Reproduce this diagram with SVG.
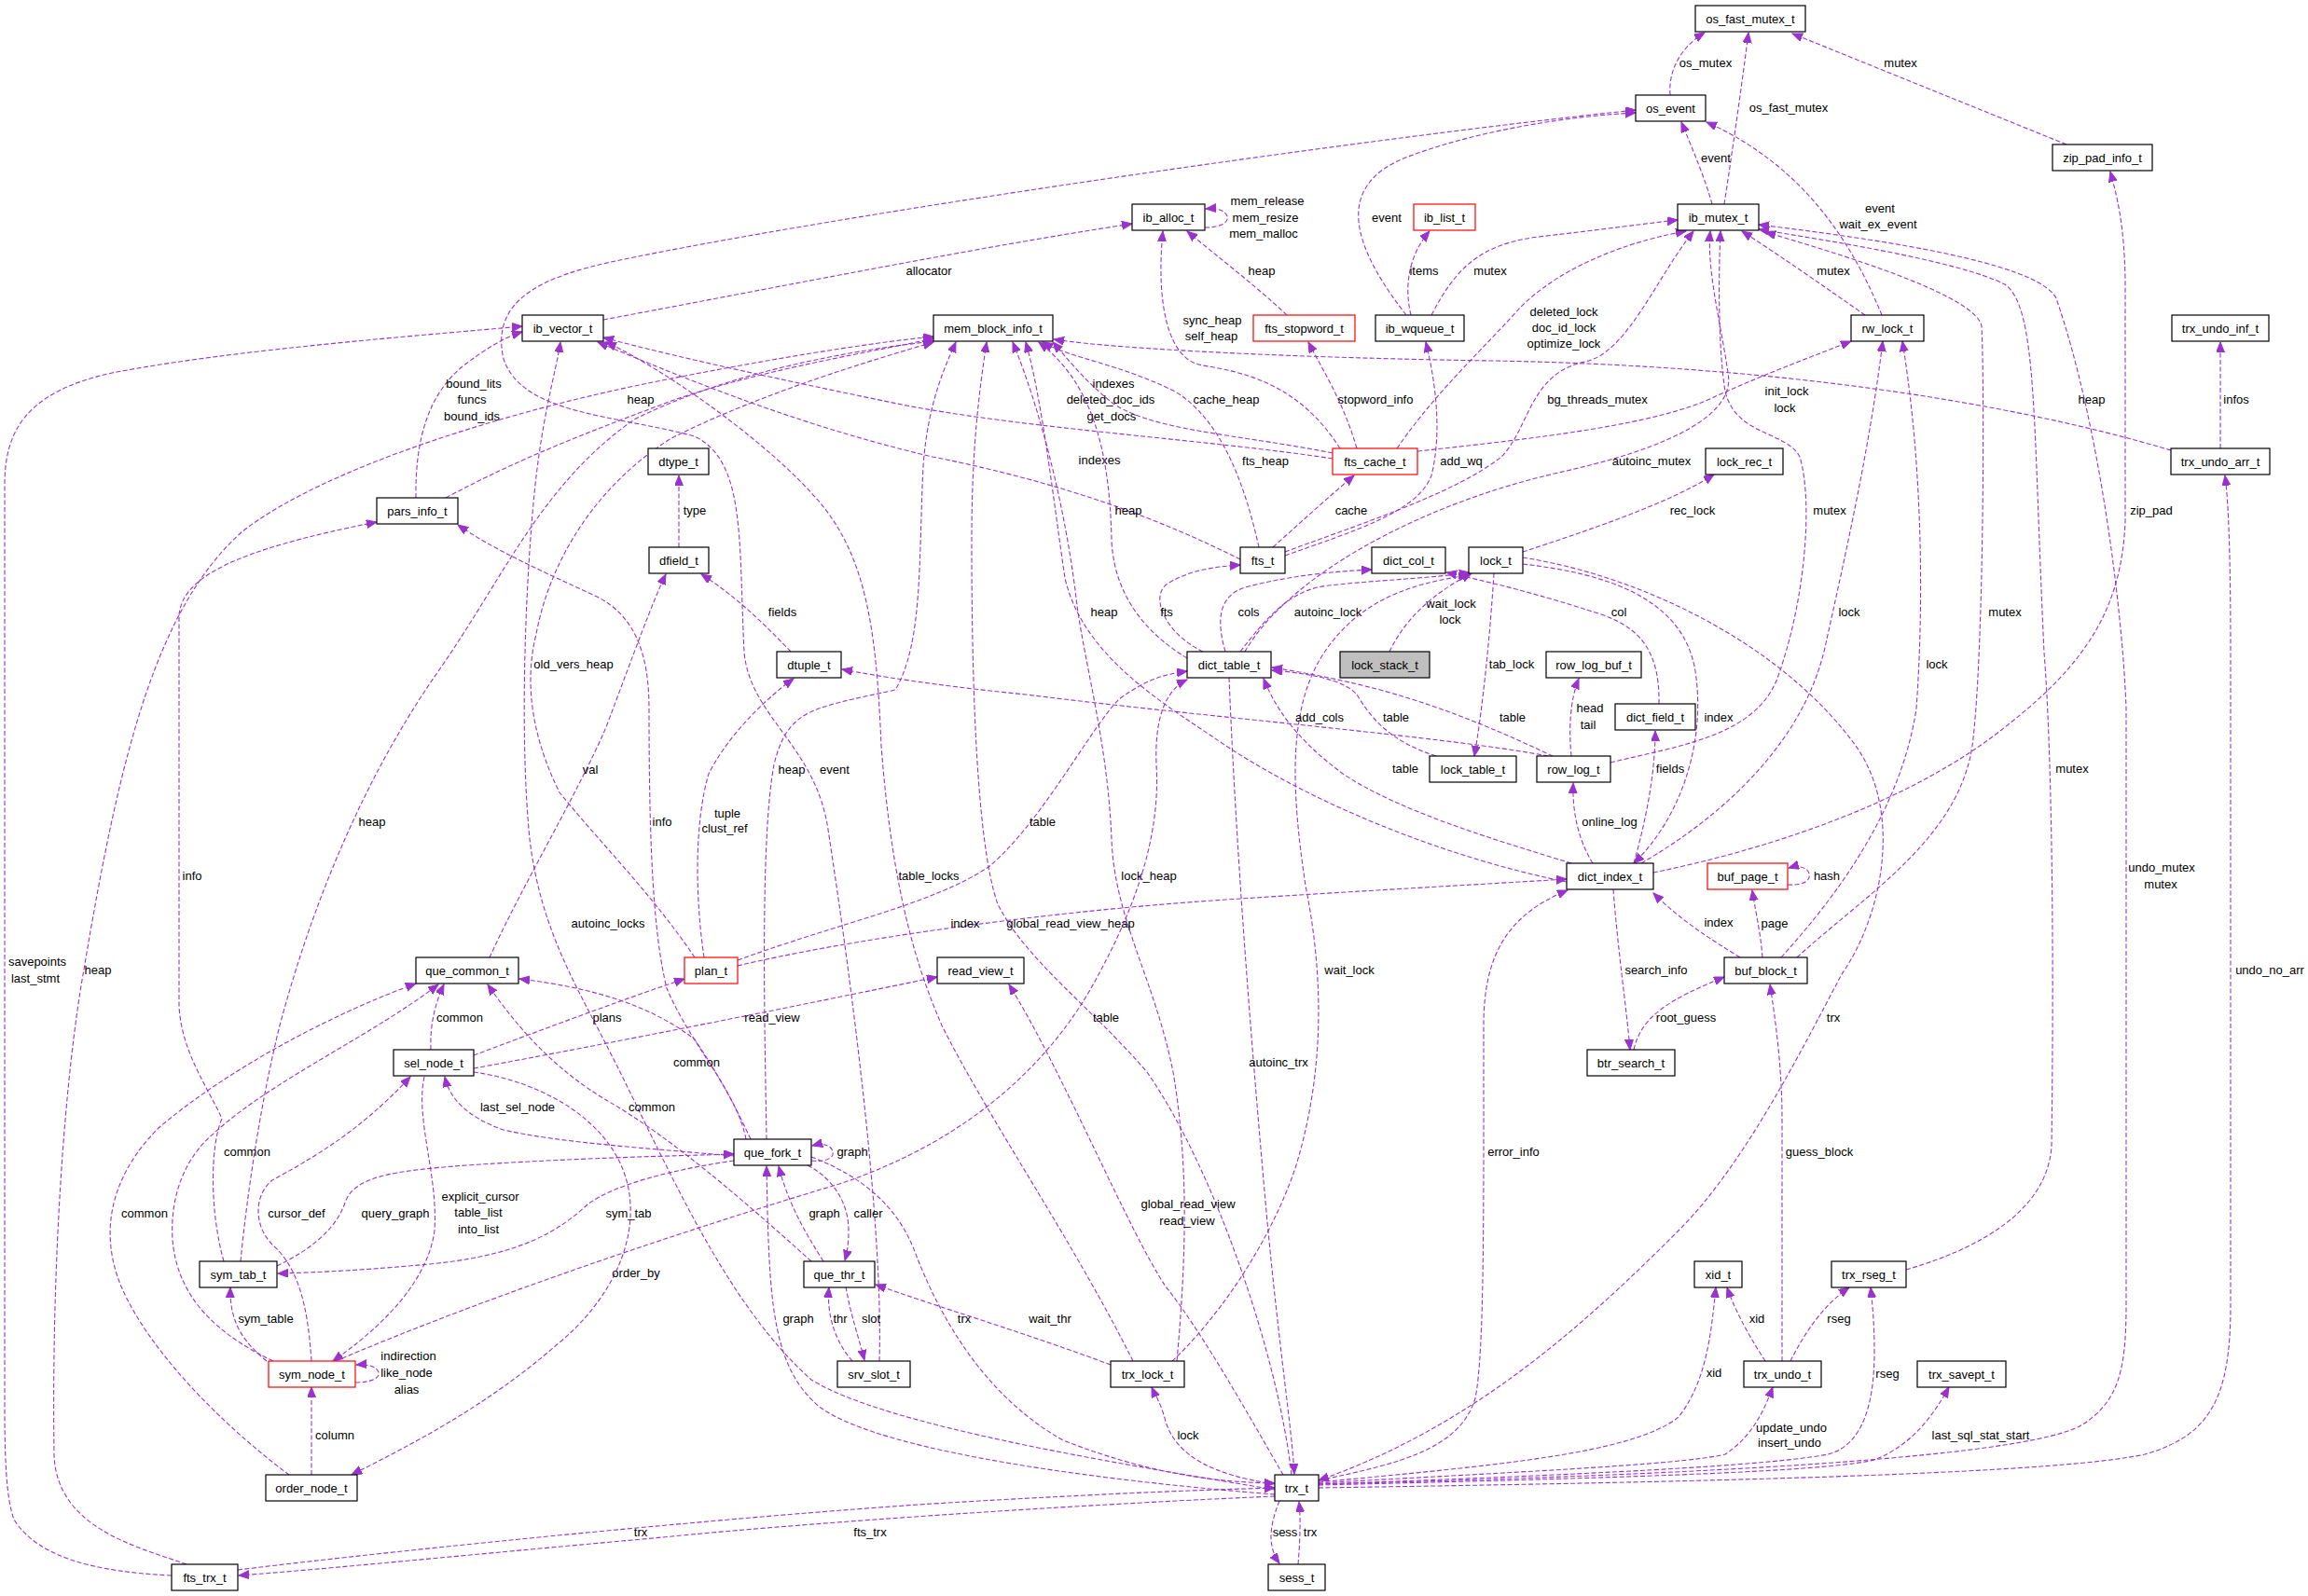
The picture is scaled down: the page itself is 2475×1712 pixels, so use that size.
<svg xmlns="http://www.w3.org/2000/svg" width="2475" height="1712" viewBox="0 0 2475 1712">
<defs>
<marker id="ah" markerWidth="12" markerHeight="10" refX="11" refY="4.5" orient="auto" markerUnits="userSpaceOnUse"><path d="M0,0 L11,4.5 L0,9 Z" fill="#9a32cd" stroke="#9a32cd" stroke-width="1"/></marker>
<style>
.n rect{fill:#fff;stroke:#000;stroke-width:1.2}
.n.r rect{stroke:#ff0000}
.n.g rect{fill:#bfbfbf}
text{font-family:"Liberation Sans",Arial,Helvetica,sans-serif;font-size:13px;fill:#000;text-anchor:middle}
.e path{fill:none;stroke:#9a32cd;stroke-width:1.1;stroke-dasharray:5,2.5;marker-end:url(#ah)}
</style>
</defs>
<rect width="2475" height="1712" fill="#fff"/>
<g id="edges">
<g class="e"><path d="M1791,102 C1789,78 1800,52 1828,35"/><text x="1829" y="72">os_mutex</text></g>
<g class="e"><path d="M1849,219 C1858,160 1868,90 1875,35"/><text x="1918" y="120">os_fast_mutex</text></g>
<g class="e"><path d="M2216,155 L1922,36"/><text x="2038" y="72">mutex</text></g>
<g class="e"><path d="M1836,219 C1828,190 1815,160 1803,131"/><text x="1840" y="174">event</text></g>
<g class="e"><path d="M2018,338 C1990,270 1940,180 1830,131"/><text x="2016" y="228">event</text><text x="2014" y="245">wait_ex_event</text></g>
<g class="e"><path d="M1508,338 C1455,270 1425,200 1510,168 C1590,138 1690,124 1754,121"/><text x="1487" y="238">event</text></g>
<g class="e"><path d="M943,1460 C948,1300 905,1000 888,890 C875,800 805,770 798,700 C792,580 800,495 745,468 C660,445 560,445 540,385 C525,320 585,296 660,280 C900,230 1450,150 1754,118"/><text x="895" y="830">event</text></g>
<g class="e"><path d="M647,343 C850,305 1050,265 1214,240"/><text x="996" y="295">allocator</text></g>
<g class="e"><path d="M1292,244 C1310,244 1318,238 1316,232 C1314,226 1306,223 1293,224"/><text x="1359" y="220">mem_release</text><text x="1357" y="238">mem_resize</text><text x="1355" y="255">mem_malloc</text></g>
<g class="e"><path d="M1380,338 C1345,305 1305,275 1273,248"/><text x="1353" y="295">heap</text></g>
<g class="e"><path d="M1437,481 C1395,415 1340,400 1290,392 C1250,386 1240,320 1247,248"/><text x="1300" y="348">sync_heap</text><text x="1299" y="365">self_heap</text></g>
<g class="e"><path d="M1513,338 C1505,305 1512,272 1533,248"/><text x="1527" y="295">items</text></g>
<g class="e"><path d="M1535,338 C1560,290 1585,262 1650,254 C1720,246 1770,239 1799,236"/><text x="1598" y="295">mutex</text></g>
<g class="e"><path d="M1498,481 C1540,420 1590,375 1630,330 C1680,280 1760,256 1808,248"/><text x="1677" y="339">deleted_lock</text><text x="1677" y="356">doc_id_lock</text><text x="1677" y="373">optimize_lock</text></g>
<g class="e"><path d="M1378,592 C1450,565 1560,530 1610,490 C1640,460 1640,400 1700,388 C1745,378 1775,300 1816,248"/><text x="1713" y="433">bg_threads_mutex</text></g>
<g class="e"><path d="M1335,699 C1380,620 1520,540 1680,505 C1790,480 1862,445 1853,400 C1846,350 1830,290 1834,248"/><text x="1771" y="499">autoinc_mutex</text></g>
<g class="e"><path d="M2000,338 C1960,310 1910,275 1868,248"/><text x="1966" y="295">mutex</text></g>
<g class="e"><path d="M1727,818 C1800,800 1880,790 1905,730 C1935,650 1945,540 1930,490 C1915,462 1862,468 1850,420 C1842,370 1843,290 1845,248"/><text x="1962" y="552">mutex</text></g>
<g class="e"><path d="M1927,1027 C2000,960 2100,900 2115,800 C2128,700 2128,400 2125,350 C2120,320 2000,280 1893,249"/><text x="2150" y="661">mutex</text></g>
<g class="e"><path d="M2044,1362 C2120,1340 2195,1300 2200,1230 C2203,1000 2200,800 2192,700 C2180,450 2185,330 2150,305 C2100,280 1960,258 1886,246"/><text x="2222" y="829">mutex</text></g>
<g class="e"><path d="M1414,1592 C1700,1585 2150,1570 2230,1530 C2272,1505 2280,1470 2280,1400 L2280,760 C2276,650 2250,450 2205,320 C2185,280 2000,255 1886,241"/><text x="2318" y="935">undo_mutex</text><text x="2317" y="953">mutex</text></g>
<g class="e"><path d="M1520,484 C1650,470 1780,455 1840,425 C1900,398 1950,380 1985,366"/><text x="1916" y="424">init_lock</text><text x="1914" y="442">lock</text></g>
<g class="e"><path d="M1760,926 C1840,880 1935,800 1958,690 C1980,590 2005,480 2019,366"/><text x="1983" y="661">lock</text></g>
<g class="e"><path d="M1910,1027 C1980,950 2040,860 2055,760 C2063,650 2062,500 2040,366"/><text x="2077" y="717">lock</text></g>
<g class="e"><path d="M2328,483 C2150,430 1900,392 1600,387 C1400,384 1200,375 1130,364"/><text x="2243" y="433">heap</text></g>
<g class="e"><path d="M2381,481 L2381,367"/><text x="2398" y="433">infos</text></g>
<g class="e"><path d="M1773,936 C1900,910 2050,860 2150,780 C2240,710 2275,650 2279,560 L2279,300 C2278,240 2270,210 2263,184"/><text x="2307" y="552">zip_pad</text></g>
<g class="e"><path d="M1633,592 C1700,570 1790,540 1838,509"/><text x="1815" y="552">rec_lock</text></g>
<g class="e"><path d="M1455,481 C1440,430 1420,400 1403,367"/><text x="1475" y="433">stopword_info</text></g>
<g class="e"><path d="M1378,596 C1450,570 1520,550 1535,510 C1545,470 1542,420 1529,367"/><text x="1567" y="499">add_wq</text></g>
<g class="e"><path d="M1365,587 C1395,560 1425,533 1452,510"/><text x="1449" y="552">cache</text></g>
<g class="e"><path d="M1350,587 C1335,520 1310,450 1260,420 C1200,390 1150,385 1118,367"/><text x="1357" y="499">fts_heap</text></g>
<g class="e"><path d="M1429,486 C1330,466 1230,462 1190,430 C1160,405 1145,385 1129,367"/><text x="1315" y="433">cache_heap</text></g>
<g class="e"><path d="M1429,492 C1300,472 1100,460 967,434 C850,410 720,382 647,362"/><text x="1194" y="416">indexes</text><text x="1191" y="433">deleted_doc_ids</text><text x="1192" y="451">get_docs</text></g>
<g class="e"><path d="M1330,600 C1250,560 1150,520 1000,490 C850,455 720,400 641,367"/><text x="1179" y="498">indexes</text></g>
<g class="e"><path d="M1273,706 C1230,680 1195,640 1192,580 C1190,480 1170,410 1114,367"/><text x="1210" y="552">heap</text></g>
<g class="e"><path d="M1680,946 C1550,920 1400,860 1300,790 C1240,750 1160,700 1142,620 C1130,540 1118,430 1100,367"/><text x="1184" y="661">heap</text></g>
<g class="e"><path d="M1262,1460 C1272,1350 1275,1250 1258,1150 C1238,1050 1195,985 1192,900 C1188,800 1165,720 1155,650 C1145,560 1120,450 1086,367"/><text x="1232" y="944">lock_heap</text></g>
<g class="e"><path d="M822,1222 C820,1100 815,900 830,820 C845,760 870,760 960,740 C990,690 985,600 990,500 C995,430 1015,390 1025,367"/><text x="849" y="830">heap</text></g>
<g class="e"><path d="M1385,1582 C1370,1450 1300,1250 1230,1150 C1170,1080 1100,1030 1070,970 C1045,900 1042,700 1042,580 C1042,480 1050,420 1058,367"/><text x="1148" y="995">global_read_view_heap</text></g>
<g class="e"><path d="M1215,1460 C1150,1330 1060,1200 1010,1100 C975,1020 955,930 945,800 C940,680 930,600 880,540 C830,480 720,400 650,367"/><text x="996" y="944">table_locks</text></g>
<g class="e"><path d="M1367,1598 C1200,1570 950,1530 870,1480 C780,1400 720,1260 660,1140 C620,1060 580,1000 568,900 C558,800 562,650 572,540 C580,450 596,400 601,367"/><text x="652" y="995">autoinc_locks</text></g>
<g class="e"><path d="M446,534 C445,470 460,420 500,390 C520,375 540,362 560,356"/><text x="508" y="416">bound_lits</text><text x="506" y="433">funcs</text><text x="506" y="451">bound_ids</text></g>
<g class="e"><path d="M184,1690 C100,1686 40,1670 15,1630 C6,1605 5,1560 5,1500 L5,520 C5,460 30,420 120,400 C250,375 450,360 560,350"/><text x="40" y="1036">savepoints</text><text x="38" y="1054">last_stmt</text></g>
<g class="e"><path d="M200,1678 C150,1660 60,1640 58,1560 C55,1350 70,1150 90,1040 C130,800 170,650 260,570 C350,500 550,440 700,410 C850,380 950,366 1001,361"/><text x="105" y="1045">heap</text></g>
<g class="e"><path d="M258,1353 C265,1280 280,1180 300,1100 C340,950 400,820 470,720 C540,620 580,520 680,450 C800,390 950,372 1001,366"/><text x="399" y="886">heap</text></g>
<g class="e"><path d="M478,534 C560,490 640,460 720,430 C820,395 950,375 1001,363"/><text x="687" y="433">heap</text></g>
<g class="e"><path d="M745,1027 C700,960 640,900 600,850 C575,800 560,740 575,680 C590,600 640,520 720,470 C820,420 940,385 1001,367"/><text x="615" y="717">old_vers_heap</text></g>
<g class="e"><path d="M1290,699 C1250,680 1232,640 1252,626 C1275,612 1300,608 1330,606"/><text x="1251" y="661">fts</text></g>
<g class="e"><path d="M1314,699 C1305,668 1305,640 1335,630 C1385,617 1430,613 1471,611"/><text x="1339" y="661">cols</text></g>
<g class="e"><path d="M1330,699 C1360,660 1385,632 1425,628 C1480,622 1540,620 1576,614"/><text x="1424" y="661">autoinc_lock</text></g>
<g class="e"><path d="M1490,699 C1505,668 1530,640 1578,615"/><text x="1556" y="652">wait_lock</text><text x="1555" y="669">lock</text></g>
<g class="e"><path d="M1257,1460 C1300,1420 1360,1340 1390,1250 C1420,1150 1420,1050 1400,950 C1385,850 1380,760 1420,700 C1460,640 1520,625 1575,617"/><text x="1447" y="1045">wait_lock</text></g>
<g class="e"><path d="M1779,755 C1780,700 1760,675 1720,660 C1650,637 1600,625 1551,614"/><text x="1736" y="661">col</text></g>
<g class="e"><path d="M1602,615 C1598,680 1590,760 1581,811"/><text x="1621" y="717">tab_lock</text></g>
<g class="e"><path d="M1633,605 C1720,615 1805,640 1818,720 C1830,800 1800,880 1752,926"/><text x="1843" y="774">index</text></g>
<g class="e"><path d="M1633,598 C1760,618 1910,690 1990,800 C2040,870 2020,980 1975,1045 C1930,1130 1870,1250 1800,1320 C1700,1420 1580,1530 1414,1588"/><text x="1966" y="1096">trx</text></g>
<g class="e"><path d="M1660,811 C1550,790 1300,770 1100,745 C1000,735 940,725 903,718"/><text x="1415" y="774">add_cols</text></g>
<g class="e"><path d="M1540,811 C1490,795 1470,770 1455,745 C1440,728 1400,722 1364,719"/><text x="1497" y="774">table</text></g>
<g class="e"><path d="M1665,811 C1620,790 1560,762 1480,740 C1430,727 1395,721 1364,716"/><text x="1622" y="774">table</text></g>
<g class="e"><path d="M1685,926 C1600,900 1500,870 1440,830 C1400,800 1372,770 1355,728"/><text x="1507" y="829">table</text></g>
<g class="e"><path d="M1752,926 C1765,880 1775,830 1775,784"/><text x="1791" y="829">fields</text></g>
<g class="e"><path d="M1708,926 C1692,900 1686,870 1687,840"/><text x="1726" y="886">online_log</text></g>
<g class="e"><path d="M1685,811 C1682,780 1684,750 1693,728"/><text x="1705" y="764">head</text><text x="1703" y="782">tail</text></g>
<g class="e"><path d="M1730,954 C1735,1020 1744,1080 1748,1126"/><text x="1776" y="1045">search_info</text></g>
<g class="e"><path d="M1752,1126 C1760,1090 1790,1072 1849,1048"/><text x="1808" y="1096">root_guess</text></g>
<g class="e"><path d="M1866,1027 C1830,1005 1800,985 1773,958"/><text x="1843" y="994">index</text></g>
<g class="e"><path d="M1890,1027 C1888,1000 1882,975 1879,955"/><text x="1903" y="995">page</text></g>
<g class="e"><path d="M1917,949 C1935,950 1942,944 1940,937 C1938,930 1928,928 1918,931"/><text x="1959" y="944">hash</text></g>
<g class="e"><path d="M1911,1460 L1911,1200 C1911,1150 1905,1100 1898,1056"/><text x="1951" y="1240">guess_block</text></g>
<g class="e"><path d="M1414,1588 C1500,1570 1565,1555 1582,1500 C1592,1450 1591,1300 1591,1100 C1591,1020 1620,980 1681,955"/><text x="1623" y="1240">error_info</text></g>
<g class="e"><path d="M1367,1592 C1300,1582 1262,1562 1250,1525 C1245,1505 1238,1495 1235,1488"/><text x="1274" y="1544">lock</text></g>
<g class="e"><path d="M1376,1582 C1340,1520 1290,1430 1250,1380 C1210,1320 1140,1150 1082,1056"/><text x="1274" y="1296">global_read_view</text><text x="1273" y="1314">read_view</text></g>
<g class="e"><path d="M1318,727 C1325,900 1340,1100 1358,1300 C1372,1450 1385,1530 1388,1581"/><text x="1371" y="1144">autoinc_trx</text></g>
<g class="e"><path d="M791,1030 C900,990 1000,970 1060,930 C1115,885 1170,780 1200,750 C1230,728 1250,723 1273,720"/><text x="1118" y="886">table</text></g>
<g class="e"><path d="M360,1460 C500,1400 700,1330 900,1270 C1050,1220 1130,1130 1170,1060 C1215,980 1245,900 1240,820 C1238,770 1250,740 1273,729"/><text x="1186" y="1096">table</text></g>
<g class="e"><path d="M755,1027 C745,960 745,880 760,830 C780,790 820,750 851,728"/><text x="780" y="877">tuple</text><text x="777" y="893">clust_ref</text></g>
<g class="e"><path d="M791,1036 C900,1010 1100,980 1300,966 C1450,956 1600,948 1680,943"/><text x="1035" y="995">index</text></g>
<g class="e"><path d="M848,699 C820,670 790,640 752,616"/><text x="839" y="661">fields</text></g>
<g class="e"><path d="M728,587 L728,510"/><text x="745" y="552">type</text></g>
<g class="e"><path d="M525,1027 C560,950 620,850 650,780 C680,700 700,645 714,616"/><text x="633" y="830">val</text></g>
<g class="e"><path d="M800,1222 C790,1170 740,1120 715,1060 C700,1000 696,900 696,760 C696,700 680,660 640,640 C580,612 530,590 491,563"/><text x="710" y="886">info</text></g>
<g class="e"><path d="M240,1353 C225,1300 225,1230 238,1200 C225,1170 195,1130 192,1080 L192,660 C195,620 250,590 404,560"/><text x="206" y="944">info</text></g>
<g class="e"><path d="M462,1126 C461,1100 466,1078 476,1056"/><text x="493" y="1096">common</text></g>
<g class="e"><path d="M805,1222 C790,1190 775,1160 745,1115 C700,1080 640,1060 557,1050"/><text x="747" y="1144">common</text></g>
<g class="e"><path d="M870,1353 C800,1290 720,1220 650,1180 C600,1150 560,1110 523,1056"/><text x="699" y="1192">common</text></g>
<g class="e"><path d="M293,1460 C230,1430 190,1390 185,1330 C182,1280 200,1240 230,1215 C290,1160 400,1110 470,1056"/><text x="265" y="1240">common</text></g>
<g class="e"><path d="M310,1582 C240,1530 160,1450 130,1380 C105,1320 120,1260 170,1210 C240,1150 350,1090 446,1055"/><text x="155" y="1306">common</text></g>
<g class="e"><path d="M787,1240 C700,1232 600,1226 540,1212 C500,1198 482,1178 477,1155"/><text x="555" y="1192">last_sel_node</text></g>
<g class="e"><path d="M334,1460 C330,1400 320,1360 292,1335 C272,1315 272,1282 292,1266 C330,1245 385,1215 440,1155"/><text x="318" y="1306">cursor_def</text></g>
<g class="e"><path d="M455,1155 C445,1200 470,1260 466,1320 C458,1380 400,1430 357,1460"/><text x="515" y="1288">explicit_cursor</text><text x="513" y="1305">table_list</text><text x="513" y="1323">into_list</text></g>
<g class="e"><path d="M297,1358 C330,1342 360,1320 370,1290 C380,1262 420,1256 500,1250 C620,1242 720,1240 787,1238"/><text x="424" y="1306">query_graph</text></g>
<g class="e"><path d="M787,1245 C720,1255 660,1270 630,1292 C600,1320 560,1345 470,1355 C400,1362 340,1365 298,1366"/><text x="674" y="1306">sym_tab</text></g>
<g class="e"><path d="M508,1132 C580,1105 660,1075 734,1050"/><text x="651" y="1096">plans</text></g>
<g class="e"><path d="M508,1146 C650,1120 850,1080 1005,1048"/><text x="828" y="1096">read_view</text></g>
<g class="e"><path d="M508,1150 C580,1160 650,1200 670,1260 C690,1320 660,1390 600,1440 C520,1510 440,1550 377,1582"/><text x="682" y="1370">order_by</text></g>
<g class="e"><path d="M870,1245 C886,1247 895,1242 893,1235 C891,1228 882,1226 871,1229"/><text x="914" y="1240">graph</text></g>
<g class="e"><path d="M866,1250 C895,1265 910,1292 910,1320 C910,1335 908,1345 906,1352"/><text x="931" y="1306">caller</text></g>
<g class="e"><path d="M883,1353 C862,1320 845,1290 835,1251"/><text x="884" y="1306">graph</text></g>
<g class="e"><path d="M1367,1603 C1200,1590 950,1560 880,1510 C830,1470 826,1400 823,1300 L822,1251"/><text x="856" y="1419">graph</text></g>
<g class="e"><path d="M870,1241 C920,1260 960,1290 980,1340 C1010,1420 1060,1500 1140,1545 C1230,1580 1300,1590 1367,1591"/><text x="1034" y="1419">trx</text></g>
<g class="e"><path d="M914,1460 C896,1440 886,1410 889,1381"/><text x="901" y="1419">thr</text></g>
<g class="e"><path d="M907,1380 C912,1410 921,1435 927,1459"/><text x="934" y="1419">slot</text></g>
<g class="e"><path d="M1191,1464 C1100,1430 1000,1400 939,1378"/><text x="1126" y="1419">wait_thr</text></g>
<g class="e"><path d="M1372,1610 C1360,1640 1360,1660 1372,1677"/><text x="1378" y="1648">sess</text></g>
<g class="e"><path d="M1392,1678 C1394,1655 1395,1630 1393,1611"/><text x="1405" y="1648">trx</text></g>
<g class="e"><path d="M255,1684 C450,1660 800,1626 1000,1613 C1200,1601 1300,1598 1367,1596"/><text x="687" y="1648">trx</text></g>
<g class="e"><path d="M1367,1605 C1200,1612 900,1630 700,1650 C500,1668 350,1683 256,1690"/><text x="933" y="1648">fts_trx</text></g>
<g class="e"><path d="M1414,1590 C1600,1572 1750,1560 1800,1520 C1830,1482 1835,1430 1840,1381"/><text x="1838" y="1477">xid</text></g>
<g class="e"><path d="M1893,1460 C1880,1440 1862,1410 1852,1381"/><text x="1884" y="1419">xid</text></g>
<g class="e"><path d="M1920,1460 C1935,1430 1955,1400 1983,1381"/><text x="1972" y="1419">rseg</text></g>
<g class="e"><path d="M1414,1592 C1700,1582 1900,1572 1960,1560 C2000,1550 2010,1500 2010,1450 C2010,1420 2008,1400 2006,1381"/><text x="2024" y="1478">rseg</text></g>
<g class="e"><path d="M1414,1591 C1600,1580 1800,1572 1850,1560 C1880,1540 1892,1512 1901,1488"/><text x="1921" y="1536">update_undo</text><text x="1919" y="1552">insert_undo</text></g>
<g class="e"><path d="M1414,1593 C1700,1586 1950,1580 2010,1566 C2050,1550 2072,1520 2090,1488"/><text x="2124" y="1544">last_sql_stat_start</text></g>
<g class="e"><path d="M1414,1596 C1800,1590 2200,1582 2300,1560 C2370,1540 2392,1500 2392,1400 L2392,700 C2392,600 2390,540 2386,510"/><text x="2434" y="1045">undo_no_arr</text></g>
<g class="e"><path d="M334,1582 L334,1488"/><text x="359" y="1544">column</text></g>
<g class="e"><path d="M381,1483 C398,1483 408,1478 406,1472 C404,1466 395,1463 382,1464"/><text x="438" y="1459">indirection</text><text x="436" y="1477">like_node</text><text x="436" y="1495">alias</text></g>
<g class="e"><path d="M286,1460 C262,1440 246,1420 247,1381"/><text x="285" y="1419">sym_table</text></g>
</g>
<g id="nodes">
<g class="n" id="os_fast_mutex_t"><rect x="1818" y="6" width="118" height="28"/><text x="1877" y="25">os_fast_mutex_t</text></g>
<g class="n" id="os_event"><rect x="1754" y="102" width="75" height="28"/><text x="1791.5" y="121">os_event</text></g>
<g class="n" id="zip_pad_info_t"><rect x="2201" y="155" width="107" height="28"/><text x="2254.5" y="174">zip_pad_info_t</text></g>
<g class="n" id="ib_alloc_t"><rect x="1214" y="219" width="78" height="28"/><text x="1253" y="238">ib_alloc_t</text></g>
<g class="n r" id="ib_list_t"><rect x="1516" y="219" width="66" height="28"/><text x="1549" y="238">ib_list_t</text></g>
<g class="n" id="ib_mutex_t"><rect x="1799" y="219" width="87" height="28"/><text x="1842.5" y="238">ib_mutex_t</text></g>
<g class="n" id="ib_vector_t"><rect x="560" y="338" width="87" height="28"/><text x="603.5" y="357">ib_vector_t</text></g>
<g class="n" id="mem_block_info_t"><rect x="1001" y="338" width="128" height="28"/><text x="1065" y="357">mem_block_info_t</text></g>
<g class="n r" id="fts_stopword_t"><rect x="1344" y="338" width="109" height="28"/><text x="1398.5" y="357">fts_stopword_t</text></g>
<g class="n" id="ib_wqueue_t"><rect x="1475" y="338" width="95" height="28"/><text x="1522.5" y="357">ib_wqueue_t</text></g>
<g class="n" id="rw_lock_t"><rect x="1985" y="338" width="78" height="28"/><text x="2024" y="357">rw_lock_t</text></g>
<g class="n" id="trx_undo_inf_t"><rect x="2329" y="338" width="104" height="28"/><text x="2381" y="357">trx_undo_inf_t</text></g>
<g class="n" id="dtype_t"><rect x="695" y="481" width="65" height="28"/><text x="727.5" y="500">dtype_t</text></g>
<g class="n r" id="fts_cache_t"><rect x="1429" y="481" width="91" height="28"/><text x="1474.5" y="500">fts_cache_t</text></g>
<g class="n" id="lock_rec_t"><rect x="1829" y="481" width="83" height="28"/><text x="1870.5" y="500">lock_rec_t</text></g>
<g class="n" id="trx_undo_arr_t"><rect x="2328" y="481" width="106" height="28"/><text x="2381" y="500">trx_undo_arr_t</text></g>
<g class="n" id="pars_info_t"><rect x="404" y="534" width="87" height="28"/><text x="447.5" y="553">pars_info_t</text></g>
<g class="n" id="dfield_t"><rect x="696" y="587" width="64" height="28"/><text x="728" y="606">dfield_t</text></g>
<g class="n" id="fts_t"><rect x="1330" y="587" width="48" height="28"/><text x="1354" y="606">fts_t</text></g>
<g class="n" id="dict_col_t"><rect x="1471" y="587" width="79" height="28"/><text x="1510.5" y="606">dict_col_t</text></g>
<g class="n" id="lock_t"><rect x="1575" y="587" width="58" height="28"/><text x="1604" y="606">lock_t</text></g>
<g class="n" id="dtuple_t"><rect x="833" y="699" width="69" height="28"/><text x="867.5" y="718">dtuple_t</text></g>
<g class="n" id="dict_table_t"><rect x="1273" y="699" width="90" height="28"/><text x="1318" y="718">dict_table_t</text></g>
<g class="n g" id="lock_stack_t"><rect x="1437" y="699" width="96" height="28"/><text x="1485" y="718">lock_stack_t</text></g>
<g class="n" id="row_log_buf_t"><rect x="1658" y="699" width="102" height="28"/><text x="1709" y="718">row_log_buf_t</text></g>
<g class="n" id="dict_field_t"><rect x="1732" y="755" width="86" height="28"/><text x="1775" y="774">dict_field_t</text></g>
<g class="n" id="lock_table_t"><rect x="1533" y="811" width="93" height="28"/><text x="1579.5" y="830">lock_table_t</text></g>
<g class="n" id="row_log_t"><rect x="1648" y="811" width="79" height="28"/><text x="1687.5" y="830">row_log_t</text></g>
<g class="n" id="dict_index_t"><rect x="1680" y="926" width="93" height="28"/><text x="1726.5" y="945">dict_index_t</text></g>
<g class="n r" id="buf_page_t"><rect x="1831" y="926" width="86" height="28"/><text x="1874" y="945">buf_page_t</text></g>
<g class="n" id="que_common_t"><rect x="446" y="1027" width="110" height="28"/><text x="501" y="1046">que_common_t</text></g>
<g class="n r" id="plan_t"><rect x="734" y="1027" width="57" height="28"/><text x="762.5" y="1046">plan_t</text></g>
<g class="n" id="read_view_t"><rect x="1005" y="1027" width="93" height="28"/><text x="1051.5" y="1046">read_view_t</text></g>
<g class="n" id="buf_block_t"><rect x="1849" y="1027" width="89" height="28"/><text x="1893.5" y="1046">buf_block_t</text></g>
<g class="n" id="sel_node_t"><rect x="422" y="1126" width="86" height="28"/><text x="465" y="1145">sel_node_t</text></g>
<g class="n" id="btr_search_t"><rect x="1702" y="1126" width="94" height="28"/><text x="1749" y="1145">btr_search_t</text></g>
<g class="n" id="que_fork_t"><rect x="787" y="1222" width="83" height="28"/><text x="828.5" y="1241">que_fork_t</text></g>
<g class="n" id="sym_tab_t"><rect x="214" y="1353" width="83" height="28"/><text x="255.5" y="1372">sym_tab_t</text></g>
<g class="n" id="que_thr_t"><rect x="862" y="1353" width="76" height="28"/><text x="900" y="1372">que_thr_t</text></g>
<g class="n" id="xid_t"><rect x="1817" y="1353" width="51" height="28"/><text x="1842.5" y="1372">xid_t</text></g>
<g class="n" id="trx_rseg_t"><rect x="1964" y="1353" width="80" height="28"/><text x="2004" y="1372">trx_rseg_t</text></g>
<g class="n r" id="sym_node_t"><rect x="288" y="1460" width="93" height="28"/><text x="334.5" y="1479">sym_node_t</text></g>
<g class="n" id="srv_slot_t"><rect x="898" y="1460" width="78" height="28"/><text x="937" y="1479">srv_slot_t</text></g>
<g class="n" id="trx_lock_t"><rect x="1191" y="1460" width="79" height="28"/><text x="1230.5" y="1479">trx_lock_t</text></g>
<g class="n" id="trx_undo_t"><rect x="1870" y="1460" width="83" height="28"/><text x="1911.5" y="1479">trx_undo_t</text></g>
<g class="n" id="trx_savept_t"><rect x="2056" y="1460" width="95" height="28"/><text x="2103.5" y="1479">trx_savept_t</text></g>
<g class="n" id="order_node_t"><rect x="285" y="1582" width="98" height="28"/><text x="334" y="1601">order_node_t</text></g>
<g class="n" id="trx_t"><rect x="1367" y="1582" width="47" height="28"/><text x="1390.5" y="1601">trx_t</text></g>
<g class="n" id="fts_trx_t"><rect x="184" y="1678" width="71" height="28"/><text x="219.5" y="1697">fts_trx_t</text></g>
<g class="n" id="sess_t"><rect x="1360" y="1678" width="61" height="28"/><text x="1390.5" y="1697">sess_t</text></g>
</g>
</svg>
